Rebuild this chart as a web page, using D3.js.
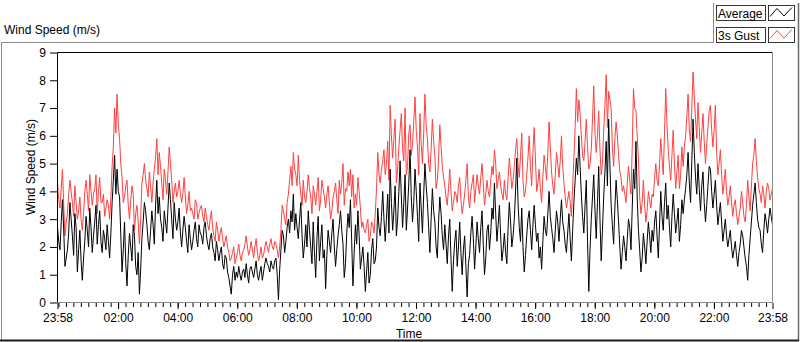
<!DOCTYPE html>
<html><head><meta charset="utf-8">
<script src="https://cdn.jsdelivr.net/npm/d3@7"></script>
<style>
body{margin:0;background:#fff}
svg{display:block}
text{font-family:"Liberation Sans",Arial,sans-serif;fill:#000}
</style>
</head><body>
<svg id="c" width="800" height="342"></svg>
<script>
const chartTitle = "Wind Speed (m/s)";
const yAxisTitle = "Wind Speed (m/s)";
const xAxisTitle = "Time";
const seriesNames = ["Average", "3s Gust"];
const startLabel = "23:58";
const stepMinutes = 2.5;

const average = [
2.7,2.2,1.9,2.9,3.7,2.6,1.3,1.6,1.9,2.5,3.6,3.0,2.4,1.7,3.2,2.7,1.1,1.9,2.6,1.5,0.8,1.6,2.2,3.1,
2.6,2.0,3.4,2.7,1.8,2.4,2.9,3.5,2.1,2.8,3.3,2.2,1.8,2.6,2.3,1.9,2.8,2.2,1.6,2.5,3.6,4.4,5.3,3.9,
4.8,4.0,3.8,2.4,1.1,1.9,2.9,1.4,0.6,1.7,2.5,2.0,1.5,2.8,2.4,1.3,1.0,1.8,0.3,1.2,2.3,2.9,3.6,3.3,
2.8,2.2,1.9,2.6,3.3,2.8,2.1,3.5,4.4,3.2,3.8,3.0,2.7,2.2,3.3,2.9,2.5,3.4,4.3,3.7,3.0,2.3,3.6,3.0,
2.6,2.9,3.4,2.5,2.0,2.6,3.1,2.7,2.2,1.8,2.8,2.3,1.9,2.2,2.6,2.9,2.3,2.0,2.8,2.5,2.4,2.1,2.7,2.9,
2.4,2.1,1.9,2.3,2.5,2.0,1.8,1.5,2.2,1.9,1.5,1.8,2.0,1.4,1.2,1.7,1.6,1.1,0.9,0.6,0.3,1.0,1.3,0.8,
1.1,0.9,1.3,1.0,0.8,1.1,1.2,0.9,1.4,1.0,0.7,1.2,1.3,1.1,0.9,1.2,1.5,1.0,0.8,1.1,1.3,0.8,1.1,1.4,
1.6,1.4,1.3,1.1,1.5,1.3,1.2,1.5,1.6,1.0,0.1,1.2,1.9,2.6,2.4,1.8,2.2,2.7,3.0,2.5,3.3,2.9,3.9,2.6,
3.2,2.7,2.3,3.0,3.6,2.4,1.6,2.1,2.8,2.0,3.3,2.6,2.0,1.4,2.9,1.8,0.9,2.3,3.1,1.5,2.2,2.8,1.6,1.9,
0.5,1.7,2.6,2.2,1.8,2.5,3.0,2.0,1.3,1.9,2.4,2.8,3.3,2.6,2.1,0.9,1.4,2.5,3.2,2.7,3.7,2.2,0.6,1.8,
2.8,2.1,3.3,2.4,1.2,1.6,2.0,1.3,0.4,1.1,1.8,0.7,1.0,1.9,2.3,1.4,1.5,2.0,3.4,2.7,2.4,3.1,4.0,3.0,
2.2,3.0,3.9,2.5,4.8,3.6,2.6,3.3,4.2,2.4,3.0,4.0,5.1,3.8,2.7,3.6,4.6,2.6,3.4,4.3,5.5,3.8,2.9,3.6,
4.8,4.0,3.1,2.2,4.3,3.4,2.5,3.9,5.0,4.2,3.6,2.7,1.8,3.0,4.1,3.3,2.9,2.0,1.6,2.9,3.8,3.2,2.4,1.9,
2.8,2.1,1.4,2.4,3.0,1.6,0.4,1.5,2.2,2.6,1.3,2.0,2.9,1.8,1.0,1.9,2.4,1.3,0.2,1.4,1.7,2.5,3.1,2.3,
1.2,2.0,2.9,2.3,1.8,2.7,3.3,2.1,1.0,1.6,2.6,2.8,1.9,2.5,3.4,3.0,4.3,3.2,2.2,2.8,3.5,2.4,1.5,1.9,
2.5,1.8,1.4,2.7,3.6,2.9,2.0,2.4,3.0,4.0,5.2,3.6,2.7,2.2,3.4,2.0,1.1,1.7,2.4,3.0,3.3,2.6,1.9,2.8,
3.5,2.8,2.2,2.5,1.6,2.0,1.2,2.2,3.1,2.6,2.4,3.2,4.0,3.1,2.7,2.3,1.8,2.6,3.3,2.9,2.2,3.0,3.7,2.9,
2.6,2.1,1.8,2.5,3.2,2.3,1.5,2.6,3.6,4.4,5.2,4.6,6.0,4.9,3.9,3.1,2.5,3.5,4.4,2.2,0.4,1.9,3.0,3.8,
4.6,3.3,2.3,3.6,4.9,3.0,1.5,2.6,3.8,4.7,5.8,4.2,6.6,5.0,3.5,2.8,2.1,3.4,4.4,3.7,2.9,2.0,1.2,1.8,
2.4,2.0,1.5,2.3,3.0,2.7,1.9,3.4,4.8,4.1,5.8,3.8,2.6,1.9,1.1,1.6,2.5,2.0,1.4,2.2,2.9,2.4,1.8,2.6,
2.2,2.9,3.3,2.4,1.6,2.8,4.0,3.1,2.6,3.6,4.3,3.0,3.5,2.7,2.0,3.1,3.9,3.2,2.5,2.9,3.4,2.2,2.8,3.7,
3.2,3.7,4.1,4.6,5.4,4.3,3.6,5.1,6.6,5.4,4.5,3.9,5.0,4.1,3.3,4.2,4.7,3.6,2.9,3.5,4.2,4.9,4.8,4.0,
3.4,3.9,4.4,3.5,2.8,3.2,3.6,2.9,2.2,2.6,3.0,2.4,2.0,2.3,2.6,2.0,1.6,1.9,2.2,1.7,1.3,1.8,2.1,2.6,
2.4,2.0,1.6,1.3,0.8,1.7,2.3,2.9,3.5,3.9,4.3,3.6,3.0,2.7,2.6,2.1,1.8,2.6,3.2,2.9,2.5,3.0,3.4,3.1,2.8
];

const gust = [
4.3,3.7,3.4,4.1,4.8,3.5,2.4,2.9,3.2,3.9,4.4,4.0,3.6,3.1,4.2,3.6,3.0,3.3,3.8,3.0,2.6,3.2,4.0,4.4,
3.9,3.3,4.6,4.0,3.5,3.9,4.1,4.6,3.2,4.0,4.5,3.6,3.6,3.9,3.1,3.4,3.7,3.5,3.0,3.8,4.9,5.6,7.0,6.1,
7.5,6.4,5.9,5.0,4.5,3.6,3.8,4.2,4.4,3.5,3.0,3.7,4.2,3.9,2.6,3.2,3.5,2.9,2.1,3.0,4.3,4.6,5.0,4.4,
4.1,3.8,4.7,4.2,3.6,4.3,4.8,5.2,5.9,4.6,5.4,4.9,4.3,3.7,4.8,4.4,3.9,4.7,5.6,5.0,4.4,3.6,4.0,4.3,
3.8,4.0,4.4,3.9,3.6,3.9,4.5,3.8,3.2,3.5,4.0,3.3,3.4,3.2,3.0,3.7,3.6,3.0,3.2,3.4,3.5,3.1,2.9,3.4,
3.1,2.8,2.6,3.0,3.3,2.7,2.4,2.2,2.9,2.6,2.2,2.5,2.7,2.3,2.0,2.2,2.4,2.0,1.8,1.5,1.6,1.8,2.0,1.4,
1.6,1.8,2.1,1.7,1.5,1.8,1.9,2.1,2.4,2.0,1.7,1.9,2.2,1.9,1.6,2.0,2.3,1.8,1.5,1.7,2.0,1.6,1.7,2.0,
2.2,2.0,1.8,2.1,2.3,2.0,1.9,2.2,2.1,1.9,1.6,2.0,2.6,3.5,3.3,3.0,2.8,3.6,3.9,4.4,4.9,4.2,5.4,4.8,
4.6,4.2,5.3,4.4,3.9,3.5,4.4,3.8,3.6,4.0,4.6,4.1,3.8,3.2,4.2,3.9,3.5,4.0,4.5,3.3,3.7,4.4,4.1,3.8,
3.4,3.9,4.2,3.6,3.0,3.3,3.8,4.0,4.3,3.7,3.2,4.4,3.9,4.3,5.0,3.5,4.1,4.0,4.7,4.2,4.8,3.8,4.6,3.4,
3.9,3.5,4.5,4.0,3.4,2.7,2.9,2.6,2.5,2.8,3.0,2.2,2.4,2.9,2.8,2.5,3.2,4.1,5.4,4.6,4.3,4.8,5.1,5.5,
4.6,5.0,5.8,4.4,7.1,6.0,5.2,5.9,6.6,4.3,4.8,5.6,6.2,6.8,5.5,5.1,7.0,4.6,4.9,6.1,6.4,5.3,5.7,6.5,
7.4,6.2,5.6,4.6,6.8,5.7,5.0,6.1,7.5,6.4,5.9,5.0,4.7,5.5,6.6,5.8,5.3,4.1,4.4,5.2,6.4,5.6,4.9,4.5,
4.2,3.8,3.5,4.1,4.8,4.0,3.3,3.6,4.0,3.9,3.6,4.2,4.5,3.7,3.2,3.5,3.9,4.4,5.0,3.8,3.4,4.0,4.3,4.6,
3.6,4.1,4.6,4.2,3.9,4.5,5.0,4.3,3.5,3.9,4.4,4.0,3.8,4.4,4.9,4.6,5.5,5.0,4.1,4.4,4.7,4.2,3.9,3.7,
4.4,3.9,3.7,4.5,5.2,4.7,4.1,4.4,4.9,5.5,5.9,5.0,4.5,5.3,6.1,4.4,3.8,4.0,4.6,5.2,6.0,4.9,4.2,5.4,
6.3,5.2,4.0,4.3,4.8,4.1,3.6,4.5,5.3,4.9,4.4,5.4,6.5,5.6,4.7,4.2,3.9,4.6,5.4,5.0,4.5,5.1,6.0,4.9,
4.3,3.8,3.4,3.7,4.0,3.6,3.1,4.2,5.2,6.3,7.7,6.5,7.3,6.8,6.0,5.3,5.1,5.8,6.6,5.6,4.8,5.0,5.5,6.6,
7.8,6.1,5.4,6.0,6.9,5.5,4.6,5.0,6.2,7.1,8.2,6.3,7.6,7.3,7.0,5.6,4.9,5.9,6.5,6.0,5.3,4.7,4.5,4.0,
4.2,3.9,3.6,4.3,4.9,4.4,3.9,5.6,7.7,7.0,6.9,6.0,5.2,3.8,3.2,3.6,4.4,3.5,2.9,3.3,4.0,3.7,3.4,3.9,
3.8,4.5,5.0,4.4,4.2,5.0,5.9,5.2,4.6,6.1,7.7,6.4,5.5,4.9,4.4,5.3,6.2,5.0,4.1,4.7,5.3,4.1,4.6,5.6,
4.9,5.6,6.0,6.7,7.5,6.2,5.8,7.0,8.3,7.4,6.6,5.9,7.2,6.3,5.4,6.1,6.8,5.8,5.0,5.7,6.3,6.9,7.1,6.2,
5.6,6.2,7.1,5.4,4.6,5.0,5.5,4.6,3.9,4.3,4.8,4.0,3.5,3.8,4.2,3.6,3.1,3.5,3.7,3.2,2.8,3.1,3.4,4.0,
3.6,3.1,2.9,3.5,4.4,3.8,3.3,4.2,5.0,5.3,5.9,5.1,4.5,4.1,3.9,3.6,4.2,3.9,3.4,4.0,4.3,4.1,3.7,3.9,4.1
];

const yTicks = [0,1,2,3,4,5,6,7,8,9];
const xTickLabels = ["23:58","02:00","04:00","06:00","08:00","10:00","12:00","14:00","16:00","18:00","20:00","22:00","23:58"];
const minorTickMinutes = 15;

const svg = d3.select("#c");

const [sh, sm] = startLabel.split(":").map(Number);
const t0 = new Date(2000, 0, 1, sh, sm);
const t1 = new Date(t0.getTime() + 24 * 3600 * 1000);
const timeAt = i => new Date(t0.getTime() + i * stepMinutes * 60000);
const labelDate = (lab, i) => {
  if (i === 0) return t0;
  if (i === xTickLabels.length - 1) return t1;
  const [h, m] = lab.split(":").map(Number);
  return new Date(2000, 0, 2, h, m);
};
const majorDates = xTickLabels.map(labelDate);
const minorDates = d3.timeMinute.every(minorTickMinutes).range(t0, t1);

const x = d3.scaleTime().domain([t0, t1]).range([57.5, 772.5]);
const y = d3.scaleLinear().domain([0, 9]).range([302.5, 52.5]);

// outer frame
const frame = svg.append("g").attr("fill", "none");
frame.append("path").attr("d", "M1.5,340 V42.5 H713.5 V3").attr("stroke", "#8c8c8c");
frame.append("path").attr("d", "M798.5,3 V341").attr("stroke", "#6a6a6a").attr("stroke-width", 1.5);
frame.append("path").attr("d", "M0,340.5 H799").attr("stroke", "#1a1a1a").attr("stroke-width", 2);

// title
svg.append("text").attr("x", 4).attr("y", 34).attr("font-size", 12).text(chartTitle);

// legend
const legend = svg.append("g");
const legendColors = ["#000000", "#ff4040"];
seriesNames.forEach((name, i) => {
  const top = 5.5 + i * 22;
  legend.append("rect").attr("x", 716.5).attr("y", top).attr("width", 49).attr("height", 15)
    .attr("fill", "#fff").attr("stroke", "#333");
  legend.append("text").attr("x", 718).attr("y", top + 12).attr("font-size", 12).text(name);
  legend.append("rect").attr("x", 768.5).attr("y", top).attr("width", 26).attr("height", 15)
    .attr("fill", "#fff").attr("stroke", "#333");
  legend.append("path")
    .attr("d", `M770,${top + 11} L777,${top + 3} L784,${top + 10.5} L792,${top + 2}`)
    .attr("fill", "none").attr("stroke", legendColors[i]).attr("stroke-width", 1);
});

// plot area
const plot = svg.append("g");
plot.append("rect").attr("x", 57.5).attr("y", 52.5).attr("width", 715).attr("height", 250).attr("fill", "#fff");

const line = d3.line().x((d, i) => x(timeAt(i))).y(d => y(d));
plot.append("path").datum(gust).attr("d", line).attr("fill", "none")
  .attr("stroke", "#ff4040").attr("stroke-width", 1);
plot.append("path").datum(average).attr("d", line).attr("fill", "none")
  .attr("stroke", "#000").attr("stroke-width", 1);

plot.append("path").attr("d", "M57.5,302.5 V52.5 H772.5").attr("fill", "none").attr("stroke", "#000");
plot.append("path").attr("d", "M772.5,52.5 V302.5 H57.5").attr("fill", "none").attr("stroke", "#8c8c8c");

// y axis
const yAxis = svg.append("g").attr("transform", "translate(57,0)")
  .call(d3.axisLeft(y).tickValues(yTicks).tickSize(7).tickPadding(4).tickFormat(d3.format("d")));
yAxis.select(".domain").remove();
yAxis.selectAll("text").attr("font-size", 12).attr("font-family", "Liberation Sans, Arial, sans-serif").attr("fill", "#000");
yAxis.selectAll("line").attr("stroke", "#000");

// x axis minor
const xMinor = svg.append("g").attr("transform", "translate(0,303)")
  .call(d3.axisBottom(x).tickValues(minorDates).tickSize(4).tickFormat(""));
xMinor.select(".domain").remove();
xMinor.selectAll("line").attr("stroke", "#000");

// x axis major
const xAxis = svg.append("g").attr("transform", "translate(0,303)")
  .call(d3.axisBottom(x).tickValues(majorDates).tickSize(6).tickPadding(4)
    .tickFormat((d, i) => xTickLabels[i]));
xAxis.select(".domain").remove();
xAxis.selectAll("line").attr("stroke", "#000");
xAxis.selectAll("text").attr("font-size", 12).attr("font-family", "Liberation Sans, Arial, sans-serif").attr("fill", "#000");

// axis titles
svg.append("text").attr("transform", "translate(35,167) rotate(-90)")
  .attr("text-anchor", "middle").attr("font-size", 12).text(yAxisTitle);
svg.append("text").attr("x", 409).attr("y", 338).attr("text-anchor", "middle")
  .attr("font-size", 12).text(xAxisTitle);
</script>
</body></html>
